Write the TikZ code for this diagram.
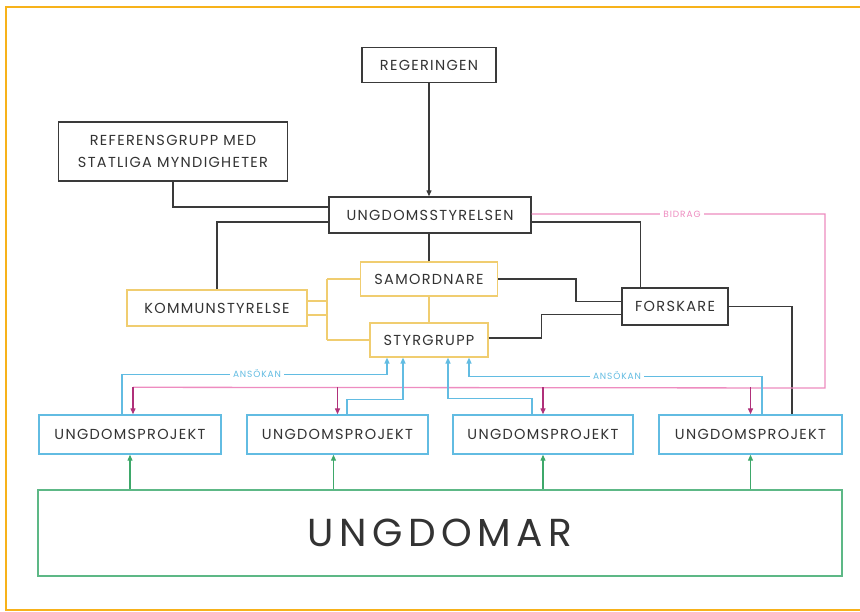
\documentclass[tikz,border=0pt]{standalone}
\usepackage{fontspec}
\setmainfont{Poppins}
\usetikzlibrary{arrows.meta,calc}
\definecolor{frameC}{HTML}{F7B21A}
\definecolor{darkC}{HTML}{3A3A3A}
\definecolor{yelC}{HTML}{F0CD70}
\definecolor{bluC}{HTML}{62BCE2}
\definecolor{pinkC}{HTML}{EE8CC0}
\definecolor{magC}{HTML}{B0307A}
\definecolor{grnC}{HTML}{3EA86A}
\definecolor{grnbox}{HTML}{5DB886}
\definecolor{txtC}{HTML}{333333}
\begin{document}
\begin{tikzpicture}[x=1pt,y=-1pt,
  box/.style={draw=darkC,line width=1.4pt,inner sep=0pt,align=center,text=txtC,
    font=\fontsize{14.5}{22}\selectfont\addfontfeatures{LetterSpace=9}},
  ybox/.style={box,draw=yelC,line width=1.2pt},
  bbox/.style={box,draw=bluC,line width=1.4pt},
  gbox/.style={draw=grnbox,line width=1.4pt,inner sep=0pt,text=txtC,
    font=\fontsize{39}{44}\selectfont\addfontfeatures{LetterSpace=14}},
  dline/.style={draw=darkC,line width=1.3pt},
  yline/.style={draw=yelC,line width=1.2pt},
  bline/.style={draw=bluC,line width=1.3pt,-{Triangle[length=6pt,width=5pt]}},
  pline/.style={draw=pinkC,line width=1.3pt},
  parr/.style={draw=magC,line width=1.3pt,-{Triangle[length=6pt,width=5pt]}},
  garr/.style={draw=grnC,line width=1.1pt,-{Triangle[length=6pt,width=5pt]}},
  lab/.style={fill=white,inner xsep=3pt,inner ysep=1pt,font=\fontsize{9}{10}\selectfont\addfontfeatures{LetterSpace=10}}
]
\useasboundingbox (0,0) rectangle (860,612);
\clip (0,0) rectangle (860,612);
\fill[white] (0,0) rectangle (860,612);
\draw[frameC,line width=2pt] (5.5,7.5) rectangle (900,609.5);

\node[box,minimum width=134,minimum height=35] (reg) at (429,65) {REGERINGEN};
\node[box,minimum width=229,minimum height=59] (ref) at (173,151.5) {REFERENSGRUPP MED\\STATLIGA MYNDIGHETER};
\node[box,minimum width=202,minimum height=36] (ust) at (430,215) {UNGDOMSSTYRELSEN};
\node[ybox,minimum width=180,minimum height=36] (kom) at (217,308) {KOMMUNSTYRELSE};
\node[ybox,minimum width=137,minimum height=34] (sam) at (429,279) {SAMORDNARE};
\node[ybox,minimum width=118,minimum height=34] (sty) at (429,340) {STYRGRUPP};
\node[box,minimum width=106,minimum height=37] (for) at (675,306.5) {FORSKARE};
\node[bbox,minimum width=182,minimum height=39] (up1) at (130,434.5) {UNGDOMSPROJEKT};
\node[bbox,minimum width=181,minimum height=39] (up2) at (337.5,434.5) {UNGDOMSPROJEKT};
\node[bbox,minimum width=180,minimum height=39] (up3) at (543,434.5) {UNGDOMSPROJEKT};
\node[bbox,minimum width=183,minimum height=39] (up4) at (750.5,434.5) {UNGDOMSPROJEKT};
\node[gbox,minimum width=804,minimum height=86] (ung) at (440,533) {UNGDOMAR};

% black connectors
\draw[dline,-{Triangle[length=6pt,width=5pt]}] (reg.south) -- (reg.south |- ust.north);
\draw[dline] (ref.south) |- ($(ust.west)+(0,-8)$);
\draw[dline] ($(ust.west)+(0,7)$) -| (kom.north);
\draw[dline] (sam.north) -- (sam.north |- ust.south);
\draw[dline] ($(ust.east)+(0,7)$) -| ($(for.north west)+(19,0)$);
\draw[dline] (sam.east) -- ($(sam.east)+(78,0)$) |- ($(for.west)+(0,-5)$);
\draw[dline] ($(sty.east)+(0,-2)$) -- ($(sty.east)+(53,-2)$) |- ($(for.west)+(0,8)$);
\draw[dline] (for.east) -| ($(up4.north)+(41.5,0)$);

% yellow connectors
\draw[yline] (sam.south) -- (sty.north);
\coordinate (kb) at (327,308);
\draw[yline] ($(kom.east)+(0,-7)$) -- ($(kb)+(0,-7)$);
\draw[yline] ($(kom.east)+(0,7)$) -- ($(kb)+(0,7)$);
\draw[yline] (sam.west -| kb) -- (sty.west -| kb);
\draw[yline] (sam.west -| kb) -- (sam.west);
\draw[yline] (sty.west -| kb) -- (sty.west);

% pink BIDRAG
\coordinate (pr) at (825,214);
\coordinate (pb) at (825,388);
\draw[pline] ($(ust.east)+(0,-1)$) -- (pr) -- (pb) -- ($(up1.north)+(3,-27)$);
\node[lab,text=pinkC] (bidrag) at (682,214) {BIDRAG};
\draw[parr] ($(up1.north)+(3,-27)$) -- ($(up1.north)+(3,0)$);
\draw[parr] ($(up2.north)+(0,-27)$) -- (up2.north);
\draw[parr] ($(up3.north)+(0,-27)$) -- (up3.north);
\draw[parr] ($(up4.north)+(0,-27)$) -- (up4.north);

% blue ANSOKAN
\draw[bline] ($(up1.north)+(-8,0)$) |- ($(sty.south)+(-42,17)$) -- ($(sty.south)+(-42,0)$);
\draw[bline] ($(up2.north)+(9.5,0)$) |- ($(sty.south)+(-26,42)$) -- ($(sty.south)+(-26,0)$);
\draw[bline] ($(up3.north)+(-11,0)$) |- ($(sty.south)+(19,41)$) -- ($(sty.south)+(19,0)$);
\draw[bline] ($(up4.north)+(11.5,0)$) |- ($(sty.south)+(40,19)$) -- ($(sty.south)+(40,0)$);
\node[lab,text=bluC] (ans1) at (257,374) {ANSÖKAN};
\node[lab,text=bluC] (ans2) at (617,376) {ANSÖKAN};

% green
\draw[garr] (up1.south |- ung.north) -- (up1.south);
\draw[garr] ($(up2.south |- ung.north)+(-4,0)$) -- ($(up2.south)+(-4,0)$);
\draw[garr] (up3.south |- ung.north) -- (up3.south);
\draw[garr] (up4.south |- ung.north) -- (up4.south);
\end{tikzpicture}
\end{document}
